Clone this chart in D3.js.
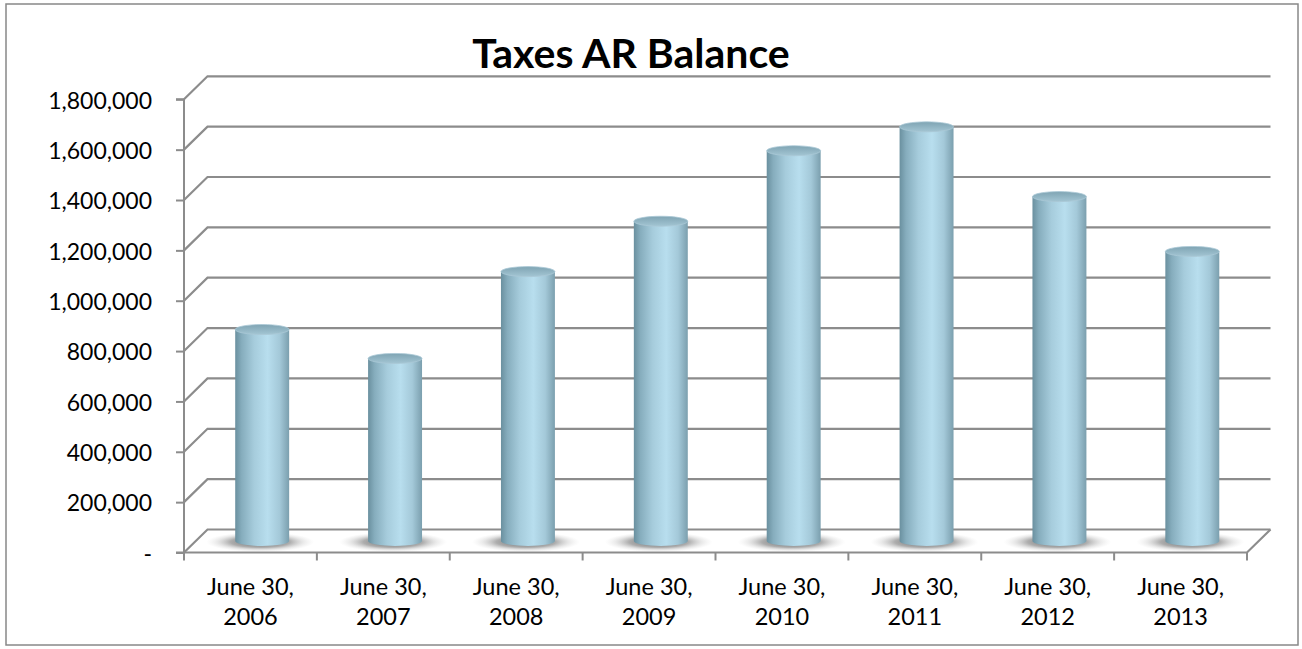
<!DOCTYPE html>
<html><head><meta charset="utf-8">
<script src="https://cdn.jsdelivr.net/npm/d3@7"></script>
<style>body{margin:0;background:#fff} svg{display:block}</style>
</head><body><svg id="c" width="1302" height="649"></svg>
<script>
const chartTitle = "Taxes AR Balance";
const categories = ["June 30, 2006", "June 30, 2007", "June 30, 2008", "June 30, 2009",
                    "June 30, 2010", "June 30, 2011", "June 30, 2012", "June 30, 2013"];
const values = [840000, 725000, 1070000, 1270000, 1550000, 1645000, 1368000, 1150000];
const yTicks = [0, 200000, 400000, 600000, 800000, 1000000, 1200000, 1400000, 1600000, 1800000];

const svg = d3.select("#c");
const FONT = "Lato, 'Open Sans', sans-serif";
const gridColor = "#8c8c8c";
const x0 = 184, x1 = 1247, yBottom = 552.5, yTop = 99.3;
const dx = 23.5, dy = 23;

const x = d3.scaleBand().domain(categories).range([x0, x1]);
const y = d3.scaleLinear().domain([0, 1800000]).range([yBottom, yTop]);

// defs
const defs = svg.append("defs");
const bg = defs.append("linearGradient").attr("id", "body").attr("x1", "0").attr("x2", "1").attr("y1", "0").attr("y2", "0");
[[0, "#6a909f"], [0.12, "#86adbd"], [0.35, "#a6ccdc"], [0.6, "#b8deee"], [0.82, "#a4c9d9"], [1, "#7b9fae"]]
  .forEach(([o, c]) => bg.append("stop").attr("offset", o).attr("stop-color", c));
const tg = defs.append("linearGradient").attr("id", "top").attr("x1", "0").attr("x2", "0").attr("y1", "0").attr("y2", "1");
[[0, "#7fa4b3"], [1, "#a3c5d3"]].forEach(([o, c]) => tg.append("stop").attr("offset", o).attr("stop-color", c));
const sg = defs.append("radialGradient").attr("id", "shadow");
[[0, "#444", 0.9], [0.55, "#777", 0.6], [0.8, "#aaa", 0.25], [1, "#ccc", 0]]
  .forEach(([o, c, op]) => sg.append("stop").attr("offset", o).attr("stop-color", c).attr("stop-opacity", op));

// outer border
svg.append("rect").attr("x", 6).attr("y", 4).attr("width", 1292).attr("height", 641)
  .attr("fill", "#fff").attr("stroke", "#888").attr("stroke-width", 1.5);

// title
svg.append("text").attr("x", 631).attr("y", 68).attr("text-anchor", "middle")
  .attr("font-family", FONT).attr("font-weight", "bold").attr("font-size", 41)
  .attr("fill", "#000").text(chartTitle);

// back-wall gridlines with left-wall diagonals
svg.append("g").selectAll("path").data(yTicks).join("path")
  .attr("d", t => `M${x0},${y(t)}L${x0 + dx},${y(t) - dy}L${x1 + dx},${y(t) - dy}`)
  .attr("fill", "none").attr("stroke", gridColor).attr("stroke-width", 2.2);

// floor front edge and right edge
svg.append("path")
  .attr("d", `M${x0},${y(0)}L${x1},${y(0)}L${x1 + dx},${y(0) - dy}`)
  .attr("fill", "none").attr("stroke", gridColor).attr("stroke-width", 2.2);

// x tick marks at band boundaries
const bounds = categories.map(c => x(c)).concat([x1]);
svg.append("g").selectAll("line").data(bounds).join("line")
  .attr("x1", d => d).attr("x2", d => d).attr("y1", y(0)).attr("y2", y(0) + 8)
  .attr("stroke", gridColor).attr("stroke-width", 2);

// y axis
const yAxis = d3.axisLeft(y).tickValues(yTicks).tickSize(8).tickPadding(24)
  .tickFormat(d => d === 0 ? "-" : d3.format(",")(d));
const ya = svg.append("g").attr("transform", `translate(${x0},0)`).call(yAxis);
ya.selectAll("path,line").attr("stroke", gridColor).attr("stroke-width", 2);
ya.select(".domain").attr("d", `M-8,${y(1800000)}H0V${y(0)}H-8`);
ya.selectAll("text").attr("font-family", FONT).attr("font-size", 23).attr("fill", "#000")
  .attr("dy", "0.38em");

// bars
const bw = x.bandwidth() * 0.406, rx = bw / 2, ry = 5;
const data = categories.map((c, i) => ({ c, v: values[i] }));
const cxOf = d => x(d.c) + x.bandwidth() / 2 + dx / 2;
const baseY = y(0) - dy / 2;

svg.append("g").selectAll("ellipse").data(data).join("ellipse")
  .attr("cx", d => cxOf(d) - 2).attr("cy", baseY + 1).attr("rx", 54).attr("ry", 10)
  .attr("fill", "url(#shadow)");

const bars = svg.append("g").selectAll("g").data(data).join("g");
bars.append("path")
  .attr("d", d => {
    const cx = cxOf(d), ty = y(d.v) - dy / 2;
    return `M${cx - rx},${ty}L${cx - rx},${baseY}A${rx},${ry} 0 0 0 ${cx + rx},${baseY}L${cx + rx},${ty}Z`;
  })
  .attr("fill", "url(#body)");
bars.append("ellipse")
  .attr("cx", d => cxOf(d)).attr("cy", d => y(d.v) - dy / 2).attr("rx", rx).attr("ry", ry)
  .attr("fill", "url(#top)").attr("stroke", "#a9c8d5").attr("stroke-width", 0.8);

// category labels
const lab = svg.append("g").selectAll("text").data(categories).join("text")
  .attr("text-anchor", "middle").attr("font-family", FONT).attr("font-size", 23.5).attr("fill", "#000");
lab.append("tspan").attr("x", c => x(c) + x.bandwidth() / 2).attr("y", 595).text(c => c.split(" ").slice(0, 2).join(" "));
lab.append("tspan").attr("x", c => x(c) + x.bandwidth() / 2).attr("y", 625).text(c => c.split(" ")[2]);
</script></body></html>
